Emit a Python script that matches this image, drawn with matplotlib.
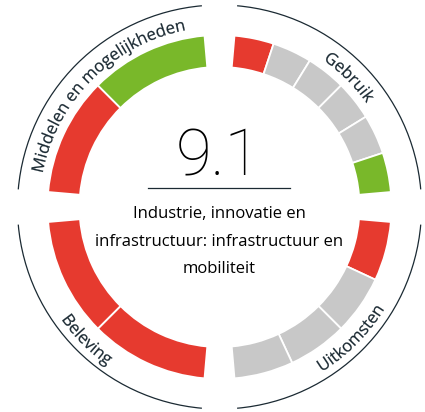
import numpy as np
import matplotlib
matplotlib.use("Agg")
from matplotlib import pyplot as plt
from matplotlib.patches import Wedge, Arc, PathPatch
from matplotlib.font_manager import FontProperties
from matplotlib.textpath import TextToPath, TextPath
from matplotlib.transforms import Affine2D

# Scores per segment, clockwise within each quadrant
quadrants = ["Gebruik", "Uitkomsten", "Beleving", "Middelen en mogelijkheden"]
gebruik = ["rood", "grijs", "grijs", "grijs", "grijs", "groen"]
uitkomsten = ["rood", "grijs", "grijs", "grijs"]
beleving = ["rood", "rood"]
middelen = ["rood", "groen"]
score = "9.1"
title_lines = ["Industrie, innovatie en", "infrastructuur: infrastructuur en", "mobiliteit"]

colors = {"rood": "#e63a2f", "groen": "#79b82a", "grijs": "#c8c8c8"}
ink = "#1b2a33"

W, H, DPI = 425, 412, 100
cx, cy = 219.5, H - 207
r_out, ring_w, r_line = 172, 32, 202
gap = 5

fig = plt.figure(figsize=(W / DPI, H / DPI), dpi=DPI)
ax = fig.add_axes([0, 0, 1, 1])
ax.set_xlim(0, W)
ax.set_ylim(0, H)
ax.set_aspect("equal")
ax.axis("off")

ttp = TextToPath()


def width_px(s, fp):
    w, h, d = ttp.get_text_width_height_descent(s, fp, ismath=False)
    return w * DPI / 72


def curved_text(s, mid_deg, radius, fp, top_outward=True):
    # glyph outlines bent along a circle, centred on mid_deg
    size_px = fp.get_size_in_points() * DPI / 72
    total = width_px(s, fp)
    sign = -1 if top_outward else 1
    start = np.radians(mid_deg) - sign * total / 2 / radius
    for i, ch in enumerate(s):
        if ch == " ":
            continue
        adv = width_px(ch, fp)
        pos = width_px(s[:i], fp) + adv / 2
        th = start + sign * pos / radius
        rot = th - np.pi / 2 if top_outward else th + np.pi / 2
        glyph = TextPath((-adv / 2, 0), ch, size=size_px, prop=fp)
        tr = Affine2D().rotate(rot).translate(cx + radius * np.cos(th),
                                               cy + radius * np.sin(th))
        ax.add_patch(PathPatch(tr.transform_path(glyph), facecolor=ink,
                               edgecolor=ink, linewidth=0.15))


series = [gebruik, uitkomsten, beleving, middelen]
label_fp = FontProperties(family="Open Sans", size=12)
for k, (name, segs) in enumerate(zip(quadrants, series)):
    t_start = 90 - 90 * k - gap
    t_end = t_start - (90 - 2 * gap)
    step = (t_start - t_end) / len(segs)
    for j, s in enumerate(segs):
        a1 = t_start - step * j
        ax.add_patch(Wedge((cx, cy), r_out, a1 - step, a1, width=ring_w,
                           facecolor=colors[s], edgecolor="white", linewidth=1.3))
    ax.add_patch(Arc((cx, cy), 2 * r_line, 2 * r_line, theta1=t_end, theta2=t_start,
                     color=ink, linewidth=0.9))
    mid = (t_start + t_end) / 2
    if mid > 0 or mid < -180:
        curved_text(name, mid, 180, label_fp, top_outward=True)
    else:
        curved_text(name, mid, 194, label_fp, top_outward=False)

ax.text(cx - 1, H - 175, score, fontsize=47, fontfamily="Roboto", fontweight="light",
        color="black", ha="center", va="baseline")
ax.plot([148, 290], [H - 187.5, H - 187.5], color=ink, linewidth=0.9)
for line, base in zip(title_lines, [218, 246, 273]):
    ax.text(cx, H - base, line, fontsize=12, fontfamily="Open Sans", color="black",
            ha="center", va="baseline")

fig.savefig("out.png", dpi=DPI)
